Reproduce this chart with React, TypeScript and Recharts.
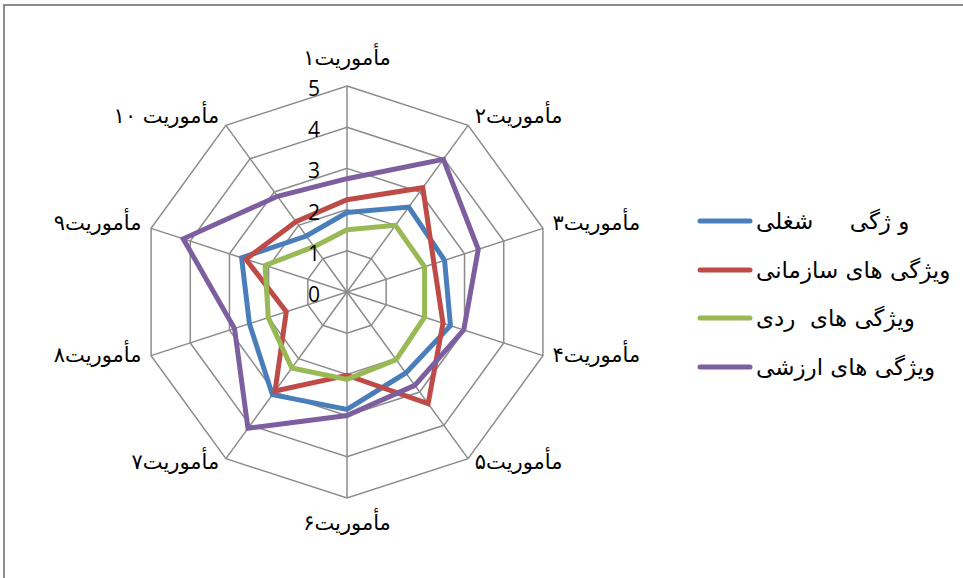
import { RadarChart, Radar, PolarGrid, PolarAngleAxis, PolarRadiusAxis, Legend } from 'recharts';

const missions = [
  'مأموریت۱',
  'مأموریت۲',
  'مأموریت۳',
  'مأموریت۴',
  'مأموریت۵',
  'مأموریت۶',
  'مأموریت۷',
  'مأموریت۸',
  'مأموریت۹',
  'مأموریت ۱۰',
];

const seriesNames = ['و ژگی     شغلی', 'ویژگی های سازمانی', 'ویژگی های  ردی', 'ویژگی های ارزشی'];
const seriesColors = ['#4a7ebb', '#be4b48', '#98b954', '#7d5fa0'];

const jobValues = [1.93, 2.55, 2.49, 2.64, 2.43, 2.85, 3.08, 2.49, 2.69, 1.68];
const orgValues = [2.24, 3.13, 2.22, 2.45, 3.35, 2.02, 2.97, 1.55, 2.58, 2.11];
const rankValues = [1.51, 2.0, 1.98, 1.98, 2.03, 2.12, 2.28, 2.01, 2.09, 1.36];
const valueValues = [2.75, 3.98, 3.35, 2.98, 2.8, 3.0, 4.09, 2.87, 4.18, 2.87];

const radiusTicks = [0, 1, 2, 3, 4, 5];

const data = missions.map((mission, i) => ({
  mission,
  s0: jobValues[i],
  s1: orgValues[i],
  s2: rankValues[i],
  s3: valueValues[i],
}));

const CX = 347;
const CY = 292;

function AngleTick(props: any) {
  const { x, y, payload, textAnchor } = props;
  let dy = 0;
  let dx = 0;
  if (textAnchor === 'middle') {
    dy = y < CY ? -20 : 17;
  } else if (textAnchor === 'start') {
    dx = 2;
    dy = -3;
  } else {
    dx = -2;
    dy = -3;
  }
  return (
    <text
      x={x + dx}
      y={y + dy}
      textAnchor={textAnchor}
      dominantBaseline="central"
      fontFamily="DejaVu Sans"
      fontSize={21}
      fill="#000"
    >
      {payload.value}
    </text>
  );
}

function RadiusTick(props: any) {
  const { x, y, payload } = props;
  return (
    <text
      x={x - 27}
      y={y + 2}
      textAnchor="end"
      dominantBaseline="central"
      fontFamily="Open Sans"
      fontSize={21}
      fill="#000"
    >
      {payload.value}
    </text>
  );
}

function renderLegend() {
  return (
    <div>
      {seriesNames.map((name, i) => (
        <div key={i} style={{ display: 'flex', alignItems: 'center', height: 48.5 }}>
          <svg width={56} height={8} style={{ display: 'block' }}>
            <line x1={3} y1={4} x2={53} y2={4} stroke={seriesColors[i]} strokeWidth={5} strokeLinecap="round" />
          </svg>
          <span dir="rtl" style={{ fontFamily: 'DejaVu Sans', fontSize: 23, color: '#000', marginLeft: 3, whiteSpace: 'pre' }}>
            {name}
          </span>
        </div>
      ))}
    </div>
  );
}

export default function App() {
  return (
    <div style={{ position: 'absolute', left: 0, top: 0, width: 963, height: 578, overflow: 'hidden', background: '#fff' }}>
      <div
        style={{
          position: 'absolute',
          left: 3,
          top: 4,
          width: 1000,
          height: 700,
          border: '2px solid #8c8c8c',
        }}
      />
      <RadarChart
        width={963}
        height={578}
        data={data}
        cx={CX}
        cy={CY}
        outerRadius={206}
        startAngle={90}
        endAngle={-270}
        style={{ position: 'absolute', left: 0, top: 0 }}
      >
        <PolarGrid gridType="polygon" stroke="#8c8c8c" strokeWidth={1.5} />
        <PolarAngleAxis dataKey="mission" tick={<AngleTick />} tickLine={false} axisLine={false} />
        <PolarRadiusAxis
          angle={90}
          domain={[0, 5]}
          ticks={radiusTicks}
          tick={<RadiusTick />}
          axisLine={false}
          tickLine={false}
        />
        {seriesNames.map((name, i) => (
          <Radar
            key={name}
            name={name}
            dataKey={`s${i}`}
            stroke={seriesColors[i]}
            strokeWidth={5}
            fill="none"
            fillOpacity={0}
            dot={false}
            isAnimationActive={false}
          />
        ))}
        <Legend
          layout="vertical"
          verticalAlign="top"
          align="right"
          wrapperStyle={{ left: 697, top: 197, width: 260 }}
          content={renderLegend}
        />
      </RadarChart>
    </div>
  );
}
